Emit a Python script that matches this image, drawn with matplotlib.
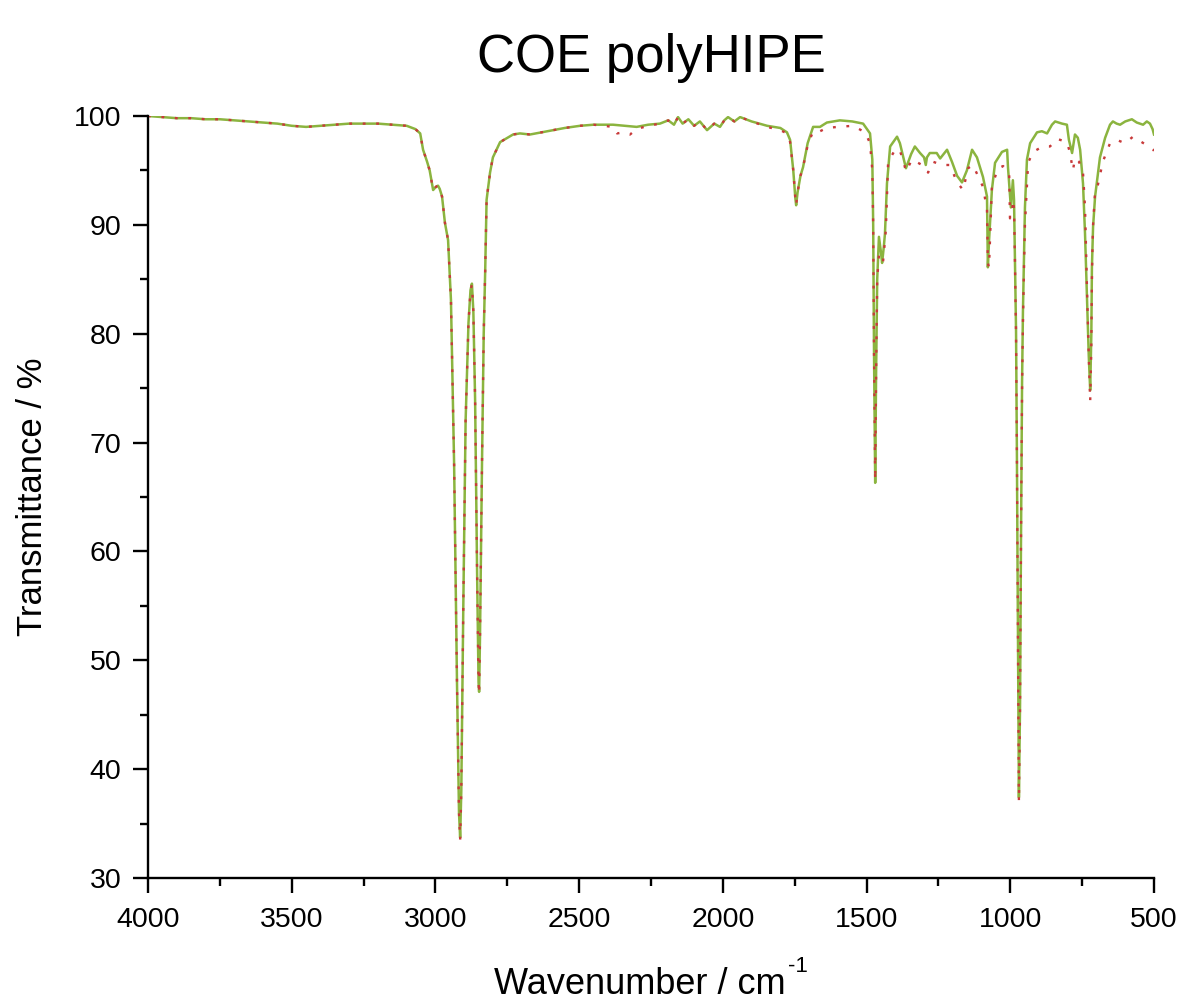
import matplotlib
matplotlib.use("Agg")
import matplotlib.pyplot as plt
from matplotlib.ticker import MultipleLocator

plt.rcParams['font.family'] = ['Liberation Sans', 'DejaVu Sans']

title = "COE polyHIPE"
xlabel = "Wavenumber / cm"
xlabel_sup = "-1"
ylabel = "Transmittance / %"

# solid green spectrum
green_wn = [4000, 3950, 3900, 3850, 3800, 3750, 3700, 3650, 3600, 3550, 3500, 3450, 3400, 3350,
            3300, 3250, 3200, 3150, 3100, 3070, 3053, 3043, 3029, 3020, 3008, 2998, 2991, 2985,
            2977, 2967, 2956, 2946, 2935, 2925, 2918, 2914, 2910, 2903, 2895, 2885, 2878, 2873,
            2868, 2862, 2855, 2850, 2848, 2845, 2838, 2832, 2827, 2822, 2810, 2800, 2775, 2730,
            2706, 2671, 2630, 2591, 2550, 2497, 2450, 2382, 2340, 2300, 2260, 2219, 2190, 2170,
            2156, 2140, 2120, 2100, 2080, 2055, 2030, 2010, 1995, 1982, 1960, 1940, 1900, 1846,
            1800, 1777, 1766, 1755, 1748, 1745, 1740, 1730, 1721, 1705, 1686, 1662, 1638, 1593,
            1550, 1512, 1488, 1480, 1477, 1474, 1470, 1467, 1463, 1457, 1450, 1446, 1440, 1436,
            1429, 1418, 1394, 1384, 1363, 1345, 1332, 1314, 1300, 1294, 1290, 1280, 1256, 1244,
            1220, 1203, 1185, 1168, 1151, 1133, 1116, 1095, 1081, 1078, 1074, 1064, 1053, 1029,
            1011, 1008, 1003, 998, 991, 987, 984, 980, 977, 974, 970, 966, 963, 959, 956, 952,
            949, 942, 931, 907, 890, 872, 855, 844, 820, 803, 796, 785, 775, 765, 757, 747, 740,
            733, 727, 722, 718, 716, 712, 705, 698, 688, 670, 653, 643, 630, 618, 600, 577, 560,
            538, 525, 514, 505, 500]
green_t = [100.0, 99.9, 99.8, 99.8, 99.7, 99.7, 99.6, 99.5, 99.4, 99.3, 99.1, 99.0, 99.1, 99.2,
           99.3, 99.3, 99.3, 99.2, 99.1, 98.8, 98.4, 96.9, 95.8, 95.0, 93.2, 93.5, 93.6, 93.3,
           92.6, 90.2, 88.6, 83.1, 68.0, 48.0, 36.0, 33.7, 38.0, 55.0, 72.0, 81.0, 84.0, 84.6,
           82.0, 74.0, 58.0, 48.0, 47.1, 52.0, 68.0, 80.0, 85.6, 92.3, 94.8, 96.2, 97.6, 98.3,
           98.4, 98.3, 98.5, 98.7, 98.9, 99.1, 99.2, 99.2, 99.1, 99.0, 99.2, 99.3, 99.6, 99.2,
           99.9, 99.3, 99.7, 99.1, 99.5, 98.7, 99.3, 99.0, 99.6, 99.9, 99.5, 99.9, 99.5, 99.1,
           98.9, 98.5, 97.8, 95.0, 92.5, 91.8, 93.0, 94.5, 95.3, 97.5, 99.0, 99.0, 99.4, 99.6,
           99.5, 99.3, 98.4, 96.0, 90.0, 78.0, 66.3, 76.0, 85.0, 88.9, 87.5, 86.5, 88.0, 89.2,
           93.8, 97.2, 98.1, 97.5, 95.2, 96.5, 97.2, 96.6, 96.2, 95.5, 96.2, 96.6, 96.6, 96.1,
           96.9, 95.8, 94.5, 93.9, 95.0, 96.9, 96.2, 94.4, 92.6, 86.1, 88.5, 93.2, 95.7, 96.7,
           96.9, 95.3, 93.5, 91.6, 94.1, 92.3, 87.4, 80.3, 69.0, 55.0, 37.4, 46.0, 60.0, 75.6, 82.0, 87.7,
           91.6, 96.0, 97.5, 98.5, 98.6, 98.4, 99.2, 99.5, 99.3, 99.2, 97.8, 96.6, 98.3, 98.0, 96.9, 93.8, 89.2,
           83.1, 78.0, 74.8, 80.0, 86.1, 89.8, 92.6, 94.1, 96.2, 98.0, 99.2, 99.5, 99.3, 99.2, 99.5, 99.7, 99.4,
           99.2, 99.5, 99.3, 98.8, 98.3]

# dotted red spectrum
red_wn = [4000, 3950, 3900, 3850, 3800, 3750, 3700, 3650, 3600, 3550, 3500, 3450, 3400, 3350,
          3300, 3250, 3200, 3150, 3100, 3070, 3053, 3043, 3029, 3020, 3008, 2998, 2991, 2985,
          2977, 2967, 2956, 2946, 2935, 2925, 2918, 2914, 2910, 2903, 2895, 2885, 2878, 2873,
          2868, 2862, 2855, 2850, 2848, 2845, 2838, 2832, 2827, 2822, 2810, 2800, 2775, 2730,
          2706, 2671, 2630, 2591, 2550, 2497, 2450, 2382, 2368, 2345, 2323, 2300, 2260, 2219,
          2190, 2170, 2156, 2140, 2120, 2100, 2080, 2055, 2030, 2010, 1995, 1982, 1960, 1940,
          1900, 1846, 1800, 1777, 1766, 1755, 1748, 1745, 1740, 1730, 1721, 1705, 1686, 1662,
          1638, 1600, 1547, 1505, 1488, 1480, 1477, 1474, 1470, 1467, 1463, 1457, 1450, 1443,
          1433, 1425, 1405, 1387, 1373, 1363, 1342, 1321, 1300, 1286, 1269, 1238, 1210, 1185,
          1164, 1147, 1130, 1095, 1081, 1078, 1074, 1064, 1043, 1025, 1004, 1001, 994, 991,
          987, 984, 980, 977, 974, 970, 966, 963, 959, 956, 952, 949, 938, 921, 887, 862, 837,
          803, 793, 782, 775, 761, 747, 740, 733, 727, 722, 718, 716, 714, 712, 705, 695, 678,
          653, 629, 601, 573, 549, 524, 503, 500]
red_t = [100.0, 99.9, 99.8, 99.8, 99.7, 99.7, 99.6, 99.5, 99.4, 99.3, 99.1, 99.0, 99.1, 99.2,
         99.3, 99.3, 99.3, 99.2, 99.1, 98.8, 98.4, 96.9, 95.8, 95.0, 93.2, 93.5, 93.6, 93.3,
         92.6, 90.2, 88.6, 83.1, 68.0, 48.0, 36.0, 33.5, 38.0, 55.0, 72.0, 81.0, 84.0, 84.5,
         82.0, 74.0, 58.0, 48.0, 46.9, 52.0, 68.0, 80.0, 85.6, 92.3, 94.8, 96.2, 97.6, 98.3,
         98.4, 98.3, 98.5, 98.7, 98.9, 99.1, 99.2, 99.0, 98.4, 98.5, 98.3, 98.8, 99.1, 99.3,
         99.6, 99.2, 99.9, 99.3, 99.7, 99.1, 99.5, 98.7, 99.3, 99.0, 99.6, 99.9, 99.5, 99.9,
         99.5, 99.0, 98.7, 98.4, 97.6, 95.0, 92.5, 91.8, 93.0, 94.5, 95.3, 97.3, 98.6, 98.6,
         98.9, 99.0, 99.1, 98.5, 97.5, 95.0, 90.0, 78.0, 66.5, 76.0, 85.0, 87.2, 86.8, 86.5,
         89.5, 95.8, 96.7, 97.0, 96.0, 94.9, 96.0, 95.7, 95.4, 94.8, 95.8, 95.5, 95.5, 93.9,
         93.2, 95.2, 95.5, 93.5, 91.4, 86.5, 86.1, 93.5, 95.2, 95.4, 94.8, 90.6, 91.1, 92.3,
         91.5, 87.0, 80.0, 69.0, 55.0, 37.0, 46.0, 60.0, 75.0, 81.0, 86.5, 90.0, 95.7, 96.7, 97.2, 97.2, 97.9,
         97.6, 96.7, 95.0, 96.1, 95.8, 94.8, 91.6, 84.0, 78.0, 73.8, 79.0, 85.0, 88.0, 90.0, 93.0, 93.7, 95.8,
         97.5, 97.8, 97.5, 98.1, 97.7, 97.3, 96.9, 96.8]

xticks = [4000, 3500, 3000, 2500, 2000, 1500, 1000, 500]
yticks = [30, 40, 50, 60, 70, 80, 90, 100]

W, H = 1181, 1000
fig = plt.figure(figsize=(W / 100, H / 100), dpi=100)
ax = fig.add_axes([148 / W, 122 / H, 1006 / W, 762 / H])

ax.plot(green_wn, green_t, color='#8bb43f', lw=1.8, solid_joinstyle='round')
ax.plot(red_wn, red_t, color='#c83a3a', lw=1.7, linestyle=(0, (1.2, 4.5)))

ax.set_xlim(4000, 500)
ax.set_ylim(30, 100)
ax.set_xticks(xticks)
ax.set_yticks(yticks)
ax.xaxis.set_minor_locator(MultipleLocator(250))
ax.yaxis.set_minor_locator(MultipleLocator(5))

for s in ['top', 'right']:
    ax.spines[s].set_visible(False)
for s in ['left', 'bottom']:
    ax.spines[s].set_linewidth(1.7)

ax.tick_params(which='major', direction='out', length=11, width=1.7, labelsize=20.5, pad=8)
ax.tick_params(which='minor', direction='out', length=5.5, width=1.7)
ax.tick_params(axis='x', which='major', pad=10)

ax.set_title(title, fontsize=38, pad=32)
ax.set_ylabel(ylabel, fontsize=25, labelpad=18)

# x label with a hyphen superscript, centred under the axes
fig.canvas.draw()
renderer = fig.canvas.get_renderer()
lab = fig.text(0, 6 / H, xlabel, fontsize=26, ha='left', va='baseline')
sup = fig.text(0, 28 / H, xlabel_sup, fontsize=16, ha='left', va='baseline')
wl = lab.get_window_extent(renderer).width
ws = sup.get_window_extent(renderer).width
total = wl + 2 + ws
x0 = 651 - total / 2
lab.set_x(x0 / W)
sup.set_x((x0 + wl + 2) / W)

fig.savefig('out.png', dpi=100)
